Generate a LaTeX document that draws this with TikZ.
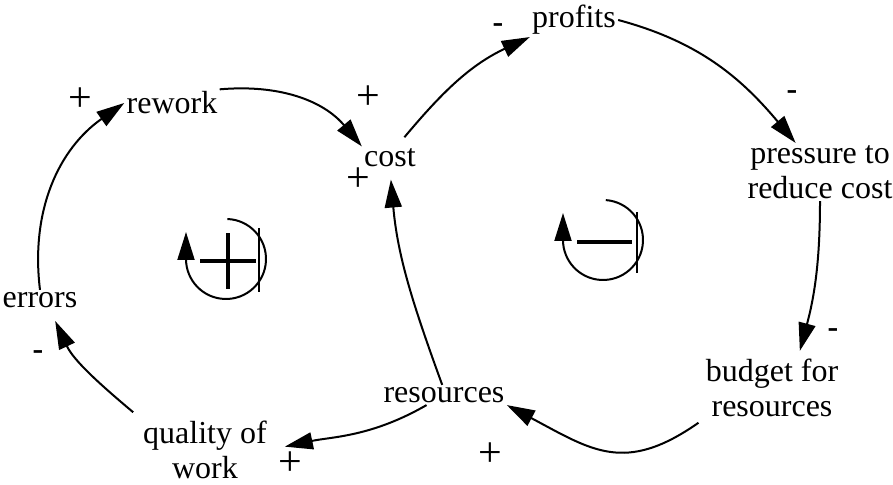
\documentclass[tikz,border=0pt]{standalone}
\usepackage{fontspec}
\setmainfont{Liberation Serif}
\usetikzlibrary{arrows.meta}

\begin{document}
\begin{tikzpicture}[
    x=0.5pt, y=0.5pt,
    >={Triangle[length=14pt, width=8.5pt]},
    font=\fontsize{16}{17.5}\selectfont,
    var/.style={inner sep=1pt, align=center},
    plus/.style={inner sep=0pt, font=\fontsize{21}{21}\selectfont},
    minus/.style={inner sep=0pt, font=\fontsize{16}{16}\selectfont\bfseries},
    link/.style={->, line width=1pt},
    loopline/.style={->, line width=1pt},
    loopbar/.style={line width=2.2pt},
    loopedge/.style={line width=0.6pt},
]
\useasboundingbox (0,0) rectangle (893,485);

% variables
\node[var] (rework)    at (172,382) {rework};
\node[var] (cost)      at (390,327) {cost};
\node[var] (profits)   at (574,465) {profits};
\node[var] (pressure)  at (820,313) {pressure to\\ reduce cost};
\node[var] (budget)    at (772,97)  {budget for\\ resources};
\node[var] (resources) at (444,90)  {resources};
\node[var] (quality)   at (205,35)  {quality of\\ work};
\node[var] (errors)    at (40,185)  {errors};

% causal links
\draw[link] (errors.north) to[out=97, in=215] (rework.west);
\draw[link] (rework.north east) to[out=5, in=130] (cost.north west);
\draw[link, shorten <=6pt] (cost.60) to[out=50, in=205] (profits.south west);
\draw[link] (profits.east) to[out=-15, in=130] (pressure.130);
\draw[link, shorten >=3pt] (pressure.south) to[out=-90, in=75] (budget.50);
\draw[link, shorten <=3pt] (budget.south west) to[out=-145, in=-28, looseness=1.25] (resources.south east);
\draw[link, shorten >=8pt] (resources.-150) to[out=-150, in=12] (quality.east);
\draw[link, shorten <=5pt, shorten >=6pt] (quality.north west) to[out=140, in=-65] (errors.-45);
\draw[link, shorten >=5pt] (resources.100) to[out=110, in=-85] (cost.south);

% polarities
\node[plus]  (s1) at (80,385)  {+};
\node[plus]  (s2) at (368,387) {+};
\node[minus] (s3) at (498,457) {-};
\node[minus] (s4) at (792,390) {-};
\node[minus] (s5) at (833,152) {-};
\node[plus]  (s6) at (490,30)  {+};
\node[plus]  (s7) at (290,21)  {+};
\node[minus] (s8) at (38,130)  {-};
\node[plus]  (s9) at (358,305) {+};

% reinforcing loop
\coordinate (loopR) at (226,226);
\draw[loopline] (loopR) ++(88:40) arc[start angle=88, end angle=-180, radius=40] -- ++(0,27);
\draw[loopbar] (200,224) -- (256,224);
\draw[loopbar] (228,196) -- (228,252);
\draw[loopedge] (259,193) -- (259,257);

% balancing loop
\coordinate (loopB) at (603,245);
\draw[loopline] (loopB) ++(86:40) arc[start angle=86, end angle=-180, radius=40] -- ++(0,27);
\draw[loopbar] (577,243) -- (632,243);
\draw[loopedge] (637,212) -- (637,273);

\end{tikzpicture}
\end{document}
